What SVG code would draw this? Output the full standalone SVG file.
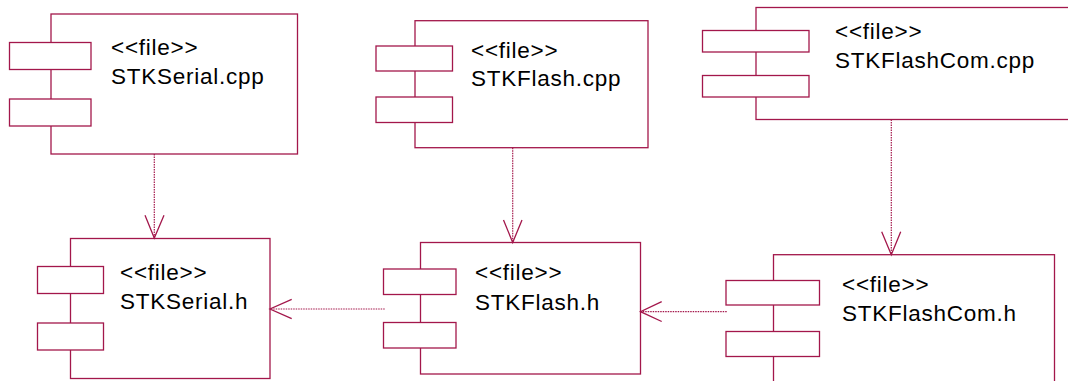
<svg xmlns="http://www.w3.org/2000/svg" width="1068" height="381" viewBox="0 0 1068 381">
<style>
.box{fill:#fff;stroke:#A3174B;stroke-width:1.3}
.port{fill:#fff;stroke:#A3174B;stroke-width:1.3}
.t{font-family:"Liberation Sans",Arial,sans-serif;font-size:22.5px;letter-spacing:0.75px;fill:#000}
.dep{fill:none;stroke:#A3174B;stroke-width:1.2;stroke-dasharray:1.5,1}
.head{fill:none;stroke:#A3174B;stroke-width:1.3}
</style>
<rect width="1068" height="381" fill="#fff"/>
<g id="n_STKSerial_cpp">
<rect class="box" x="51" y="14" width="246.5" height="140"/>
<rect class="port" x="9.5" y="42.5" width="81.5" height="27"/>
<rect class="port" x="9.5" y="99" width="81.5" height="27"/>
<text class="t" x="111" y="55">&lt;&lt;file&gt;&gt;</text>
<text class="t" x="111" y="84">STKSerial.cpp</text>
</g>
<g id="n_STKFlash_cpp">
<rect class="box" x="415" y="20.7" width="233" height="127"/>
<rect class="port" x="376" y="46" width="76.5" height="25"/>
<rect class="port" x="376" y="97" width="76.5" height="25.5"/>
<text class="t" x="471" y="57.5">&lt;&lt;file&gt;&gt;</text>
<text class="t" x="471" y="86">STKFlash.cpp</text>
</g>
<g id="n_STKFlashCom_cpp">
<rect class="box" x="756" y="7.5" width="330" height="112"/>
<rect class="port" x="702.5" y="30.5" width="106.5" height="21.5"/>
<rect class="port" x="702.5" y="75.5" width="106.5" height="21.5"/>
<text class="t" x="835" y="39">&lt;&lt;file&gt;&gt;</text>
<text class="t" x="835" y="68">STKFlashCom.cpp</text>
</g>
<g id="n_STKSerial_h">
<rect class="box" x="70.5" y="238.5" width="199.5" height="140"/>
<rect class="port" x="37.5" y="266.5" width="66" height="27"/>
<rect class="port" x="37.5" y="323" width="66" height="27"/>
<text class="t" x="120" y="279.5">&lt;&lt;file&gt;&gt;</text>
<text class="t" x="120" y="309">STKSerial.h</text>
</g>
<g id="n_STKFlash_h">
<rect class="box" x="420.5" y="242.5" width="220" height="131.5"/>
<rect class="port" x="383.5" y="269" width="72.5" height="25.5"/>
<rect class="port" x="383.5" y="322.5" width="72.5" height="25.5"/>
<text class="t" x="475" y="280">&lt;&lt;file&gt;&gt;</text>
<text class="t" x="475" y="310">STKFlash.h</text>
</g>
<g id="n_STKFlashCom_h">
<rect class="box" x="773.5" y="254.7" width="281" height="140"/>
<rect class="port" x="726" y="280.5" width="93.5" height="24.5"/>
<rect class="port" x="726" y="331.5" width="93.5" height="25"/>
<text class="t" x="842" y="291.5">&lt;&lt;file&gt;&gt;</text>
<text class="t" x="842" y="321">STKFlashCom.h</text>
</g>
<g id="connectors">
<line class="dep" x1="154.3" y1="154" x2="154.3" y2="238"/>
<polyline class="head" points="145,215.3 154.3,238 164,215.3"/>
<line class="dep" x1="512.7" y1="147.7" x2="512.7" y2="242.5"/>
<polyline class="head" points="503.5,220 512.7,242.5 522,220"/>
<line class="dep" x1="891.3" y1="119.5" x2="891.3" y2="254.7"/>
<polyline class="head" points="881.7,231.7 891.3,254.7 900.7,231.7"/>
<line class="dep" x1="384.7" y1="309" x2="270" y2="309"/>
<polyline class="head" points="291.7,299.3 270,309 291.7,318.7"/>
<line class="dep" x1="726.7" y1="311.7" x2="640.5" y2="311.7"/>
<polyline class="head" points="661.7,301.7 640.5,311.7 661.7,321.5"/>
</g>
</svg>
